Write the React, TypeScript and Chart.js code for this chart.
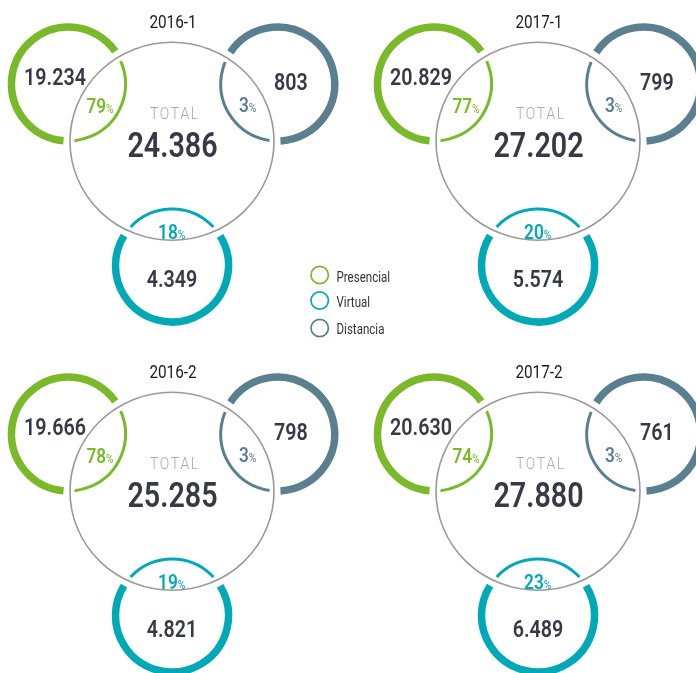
import React, { useEffect, useRef } from 'react';
import { Chart, registerables } from 'chart.js';

Chart.register(...registerables);

// ---- data ----
const periods = ['2016-1', '2017-1', '2016-2', '2017-2'];
const presencial = [19234, 20829, 19666, 20630];
const virtual = [4349, 5574, 4821, 6489];
const distancia = [803, 799, 798, 761];
const seriesLabels = ['Presencial', 'Virtual', 'Distancia'];
const seriesValues = [presencial, virtual, distancia];
const seriesColors = ['#7ab929', '#00a9b5', '#5a7f8f'];
const totalLabel = 'TOTAL';

// ---- layout ----
const W = 696;
const H = 673;
const panelOrigins = [
  [0, 0],
  [366, 0],
  [0, 350],
  [366, 350],
];
const layout = {
  central: { x: 172, y: 141.3, rx: 102, ry: 99 },
  sats: [
    { x: 68.5, y: 84, r: 57 },
    { x: 172, y: 265.5, r: 56.5 },
    { x: 277.7, y: 84, r: 57 },
  ],
  valuePos: [
    [55, 85],
    [172, 286.7],
    [290.8, 90],
  ],
  pctPos: [
    [100, 112.7],
    [171.7, 239.2],
    [247.7, 111.7],
  ],
  title: [173, 27.8],
  totalLbl: [174, 119],
  totalVal: [172.5, 156.7],
};
const legendPos = { x: 319.7, ys: [275, 300.5, 328], textX: 336.5, baselines: [281.5, 307, 334] };

const FAMILY = 'Roboto, "DejaVu Sans", sans-serif';
const DARK = '#373a46';

function fmt(n: number): string {
  return String(n).replace(/\B(?=(\d{3})+(?!\d))/g, '.');
}

type Seg = { text: string; font: string; color: string; spacing?: number };

function segWidth(ctx: CanvasRenderingContext2D, s: Seg): number {
  ctx.font = s.font;
  if (!s.spacing) return ctx.measureText(s.text).width;
  let w = 0;
  for (const ch of s.text) w += ctx.measureText(ch).width;
  return w + s.spacing * (s.text.length - 1);
}

function drawSegs(
  ctx: CanvasRenderingContext2D,
  segs: Seg[],
  x: number,
  baseline: number,
  sx: number,
  align: 'center' | 'left' = 'center'
) {
  const widths = segs.map((s) => segWidth(ctx, s));
  const total = widths.reduce((a, b) => a + b, 0);
  ctx.save();
  const start = align === 'center' ? x - (total * sx) / 2 : x;
  ctx.translate(start, baseline);
  ctx.scale(sx, 1);
  ctx.textAlign = 'left';
  ctx.textBaseline = 'alphabetic';
  let cx = 0;
  segs.forEach((s, i) => {
    ctx.font = s.font;
    ctx.fillStyle = s.color;
    if (s.spacing) {
      let px = cx;
      for (const ch of s.text) {
        ctx.fillText(ch, px, 0);
        px += ctx.measureText(ch).width + s.spacing;
      }
    } else {
      ctx.fillText(s.text, cx, 0);
    }
    cx += widths[i];
  });
  ctx.restore();
}

const infographic = {
  id: 'infographic',
  afterDraw(chart: any) {
    const ctx: CanvasRenderingContext2D = chart.ctx;
    const xs = chart.scales.x;
    const ys = chart.scales.y;
    const px = (v: number) => xs.getPixelForValue(v);
    const py = (v: number) => ys.getPixelForValue(v);
    const kx = Math.abs(px(100) - px(0)) / 100;
    const ky = Math.abs(py(100) - py(0)) / 100;

    periods.forEach((period, p) => {
      const [ox, oy] = panelOrigins[p];
      const c = layout.central;
      const total = presencial[p] + virtual[p] + distancia[p];

      // central circle
      ctx.save();
      ctx.beginPath();
      ctx.ellipse(px(ox + c.x), py(oy + c.y), c.rx * kx, c.ry * ky, 0, 0, Math.PI * 2);
      ctx.strokeStyle = '#9a9a9a';
      ctx.lineWidth = 1.6;
      ctx.stroke();
      ctx.restore();

      // satellites
      layout.sats.forEach((s, si) => {
        const N = 1440;
        const step = (Math.PI * 2) / N;
        const inside: boolean[] = [];
        for (let i = 0; i < N; i++) {
          const t = i * step;
          const x = s.x + s.r * Math.cos(t);
          const y = s.y + s.r * Math.sin(t);
          const dx = (x - c.x) / c.rx;
          const dy = (y - c.y) / c.ry;
          inside.push(dx * dx + dy * dy < 1);
        }
        let enter = 0;
        let exit = 0;
        for (let i = 0; i < N; i++) {
          const prev = inside[(i - 1 + N) % N];
          if (!prev && inside[i]) enter = i * step;
          if (prev && !inside[i]) exit = i * step;
        }
        if (exit < enter) exit += Math.PI * 2;
        const gIn = 4.5 / s.r;
        const gOut = 6.5 / s.r;
        const cxp = px(ox + s.x);
        const cyp = py(oy + s.y);
        const rp = s.r * kx;
        ctx.save();
        ctx.strokeStyle = seriesColors[si];
        ctx.lineCap = 'butt';
        // thin inner arc
        ctx.beginPath();
        ctx.arc(cxp, cyp, rp, enter + gIn, exit - gIn);
        ctx.lineWidth = 3;
        ctx.stroke();
        // thick outer arc
        ctx.beginPath();
        ctx.arc(cxp, cyp, rp, exit + gOut, enter + Math.PI * 2 - gOut);
        ctx.lineWidth = 7.5;
        ctx.stroke();
        ctx.restore();

        // value
        const v = seriesValues[si][p];
        const [vx, vy] = layout.valuePos[si];
        drawSegs(ctx, [{ text: fmt(v), font: `600 24px ${FAMILY}`, color: DARK }], px(ox + vx), py(oy + vy), 0.82);
        // percentage
        const pct = Math.round((v / total) * 100);
        const [qx, qy] = layout.pctPos[si];
        drawSegs(
          ctx,
          [
            { text: String(pct), font: `600 21px ${FAMILY}`, color: seriesColors[si] },
            { text: '%', font: `400 12.5px ${FAMILY}`, color: seriesColors[si] },
          ],
          px(ox + qx),
          py(oy + qy),
          0.82
        );
      });

      // title
      drawSegs(ctx, [{ text: period, font: `400 18px ${FAMILY}`, color: '#1c1c1c' }], px(ox + layout.title[0]), py(oy + layout.title[1]), 0.85);
      // TOTAL label
      drawSegs(
        ctx,
        [{ text: totalLabel, font: `300 17px ${FAMILY}`, color: '#a9a9a9', spacing: 1.8 }],
        px(ox + layout.totalLbl[0]),
        py(oy + layout.totalLbl[1]),
        0.82
      );
      // total value
      drawSegs(ctx, [{ text: fmt(total), font: `600 35px ${FAMILY}`, color: DARK }], px(ox + layout.totalVal[0]), py(oy + layout.totalVal[1]), 0.82);
    });

    // legend
    seriesLabels.forEach((label, i) => {
      ctx.save();
      ctx.beginPath();
      ctx.arc(px(legendPos.x), py(legendPos.ys[i]), 8.7, 0, Math.PI * 2);
      ctx.strokeStyle = seriesColors[i];
      ctx.lineWidth = 1.7;
      ctx.stroke();
      ctx.restore();
      drawSegs(ctx, [{ text: label, font: `400 15px ${FAMILY}`, color: '#333333' }], px(legendPos.textX), py(legendPos.baselines[i]), 0.77, 'left');
    });
  },
};

export default function App() {
  const ref = useRef<HTMLCanvasElement>(null);
  useEffect(() => {
    document.body.style.margin = '0';
    const chart = new Chart(ref.current as HTMLCanvasElement, {
      type: 'scatter',
      data: {
        datasets: seriesLabels.map((label, s) => ({
          label,
          data: periods.map((_, p) => ({
            x: panelOrigins[p][0] + layout.sats[s].x,
            y: panelOrigins[p][1] + layout.sats[s].y,
          })),
          pointRadius: 0,
          borderColor: seriesColors[s],
          backgroundColor: seriesColors[s],
        })),
      },
      options: {
        responsive: false,
        animation: false,
        devicePixelRatio: 1,
        layout: { padding: 0 },
        scales: {
          x: { type: 'linear', min: 0, max: W, display: false },
          y: { type: 'linear', min: 0, max: H, reverse: true, display: false },
        },
        plugins: { legend: { display: false }, tooltip: { enabled: false } },
      },
      plugins: [infographic as any],
    });
    return () => chart.destroy();
  }, []);
  return (
    <div style={{ position: 'fixed', left: 0, top: 0, width: W, height: H, background: '#fff' }}>
      <canvas ref={ref} width={W} height={H} style={{ display: 'block', width: W, height: H }} />
    </div>
  );
}
